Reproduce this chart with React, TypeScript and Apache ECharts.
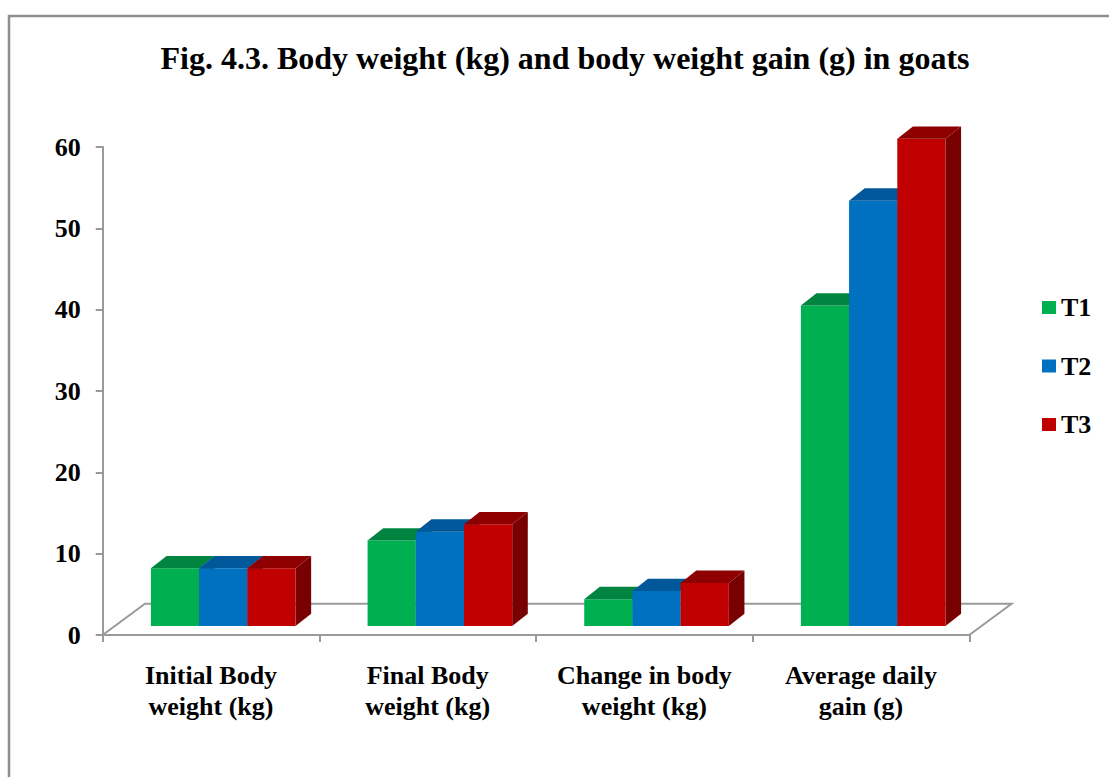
import React, { useEffect, useRef } from "react";
import * as echarts from "echarts";

// ---- data ----
const categories = [
  "Initial Body\nweight (kg)",
  "Final Body\nweight (kg)",
  "Change in body\nweight (kg)",
  "Average daily\ngain (g)",
];
const seriesNames = ["T1", "T2", "T3"];
const t1Values = [7.1, 10.5, 3.3, 39.4];
const t2Values = [7.1, 11.6, 4.3, 52.3];
const t3Values = [7.1, 12.5, 5.3, 59.9];
const yMin = 0;
const yMax = 60;
const yInterval = 10;
const titleText = "Fig. 4.3. Body weight (kg) and body weight gain (g) in goats";

// ---- styles ----
const frontColors = ["#00B050", "#0070C0", "#C00000"];
const topColors = ["#008440", "#00589A", "#8E0000"];
const sideColors = ["#006A32", "#004A80", "#780000"];
const FONT = "'Liberation Serif', 'Times New Roman', serif";
const AXIS_GRAY = "#9a9a9a";

// 3D offsets (px)
const FRONT_OX = 12.2; // bar front plane shift from axis plane
const FRONT_OY = -9;
const DEPTH_DX = 15.6; // bar depth
const DEPTH_DY = -12.3;
const FLOOR_DX = 42.3; // floor depth
const FLOOR_DY = -31.3;

export default function App() {
  const ref = useRef<HTMLDivElement>(null);

  useEffect(() => {
    if (!ref.current) return;
    const chart = echarts.init(ref.current, undefined, { renderer: "svg" });
    const valueSets = [t1Values, t2Values, t3Values];

    const barSeries = seriesNames.map((name, s) => ({
      name,
      type: "custom",
      z: 3,
      itemStyle: { color: frontColors[s] },
      data: valueSets[s].map((v, i) => [i, v]),
      renderItem: (params: any, api: any) => {
        const cat = api.value(0);
        const val = api.value(1);
        const base = api.coord([cat, 0]);
        const topPt = api.coord([cat, val]);
        const band = api.size([1, 0])[0];
        const barW = band * 0.2225;
        const left = base[0] - band * 0.3337 + s * barW + FRONT_OX;
        const right = left + barW;
        const yb = base[1] + FRONT_OY;
        const yt = topPt[1] + FRONT_OY;
        return {
          type: "group",
          children: [
            {
              type: "polygon",
              shape: {
                points: [
                  [right, yt],
                  [right + DEPTH_DX, yt + DEPTH_DY],
                  [right + DEPTH_DX, yb + DEPTH_DY],
                  [right, yb],
                ],
              },
              style: { fill: sideColors[s] },
            },
            {
              type: "rect",
              shape: { x: left, y: yt, width: barW, height: yb - yt },
              style: { fill: frontColors[s] },
            },
            {
              type: "polygon",
              shape: {
                points: [
                  [left, yt],
                  [left + DEPTH_DX, yt + DEPTH_DY],
                  [right + DEPTH_DX, yt + DEPTH_DY],
                  [right, yt],
                ],
              },
              style: { fill: topColors[s] },
            },
          ],
        };
      },
    }));

    const floorSeries = {
      name: "floor",
      type: "custom",
      z: 1,
      silent: true,
      data: [[0, 0]],
      renderItem: (params: any, api: any) => {
        const band = api.size([1, 0])[0];
        const p0 = api.coord([0, 0]);
        const p3 = api.coord([categories.length - 1, 0]);
        const xl = p0[0] - band / 2;
        const xr = p3[0] + band / 2;
        const y0 = p0[1];
        return {
          type: "polyline",
          shape: {
            points: [
              [xl, y0],
              [xl + FLOOR_DX, y0 + FLOOR_DY],
              [xr + FLOOR_DX, y0 + FLOOR_DY],
              [xr, y0],
            ],
          },
          style: { stroke: AXIS_GRAY, lineWidth: 2, fill: "none" },
        };
      },
    };

    chart.setOption({
      animation: false,
      backgroundColor: "#ffffff",
      textStyle: { fontFamily: FONT },
      graphic: [
        {
          type: "rect",
          z: 0,
          shape: { x: 9, y: 16, width: 1300, height: 1000 },
          style: { fill: "none", stroke: "#8e8e8e", lineWidth: 2.5 },
        },
        {
          type: "text",
          x: 565,
          y: 58,
          style: {
            text: titleText,
            textAlign: "center",
            textVerticalAlign: "middle",
            fontFamily: FONT,
            fontWeight: "bold",
            fontSize: 32,
            fill: "#000",
          },
        },
      ],
      legend: {
        data: seriesNames,
        orient: "vertical",
        left: 1042,
        top: 294.5,
        padding: 0,
        itemWidth: 14,
        itemHeight: 13,
        itemGap: 32.5,
        icon: "rect",
        textStyle: {
          fontFamily: FONT,
          fontWeight: "bold",
          fontSize: 26,
          lineHeight: 26,
          color: "#000",
        },
      },
      grid: {
        left: 102.7,
        right: 139.7,
        top: 147,
        bottom: 142,
        containLabel: false,
        outerBoundsMode: "none",
      },
      xAxis: {
        type: "category",
        data: categories,
        axisLine: { show: true, lineStyle: { color: AXIS_GRAY, width: 2 } },
        axisTick: { show: true, length: 7, lineStyle: { color: AXIS_GRAY, width: 2 } },
        axisLabel: {
          margin: 25,
          interval: 0,
          fontFamily: FONT,
          fontWeight: "bold",
          fontSize: 26,
          lineHeight: 31,
          color: "#000",
        },
        splitLine: { show: false },
      },
      yAxis: {
        type: "value",
        min: yMin,
        max: yMax,
        interval: yInterval,
        axisLine: { show: true, lineStyle: { color: AXIS_GRAY, width: 2 } },
        axisTick: { show: true, length: 7, lineStyle: { color: AXIS_GRAY, width: 2 } },
        axisLabel: {
          margin: 22,
          fontFamily: FONT,
          fontWeight: "bold",
          fontSize: 26,
          color: "#000",
        },
        splitLine: { show: false },
      },
      series: [floorSeries, ...barSeries],
    });

    return () => chart.dispose();
  }, []);

  return (
    <div
      ref={ref}
      style={{ position: "fixed", left: 0, top: 0, width: 1109, height: 777 }}
    />
  );
}
